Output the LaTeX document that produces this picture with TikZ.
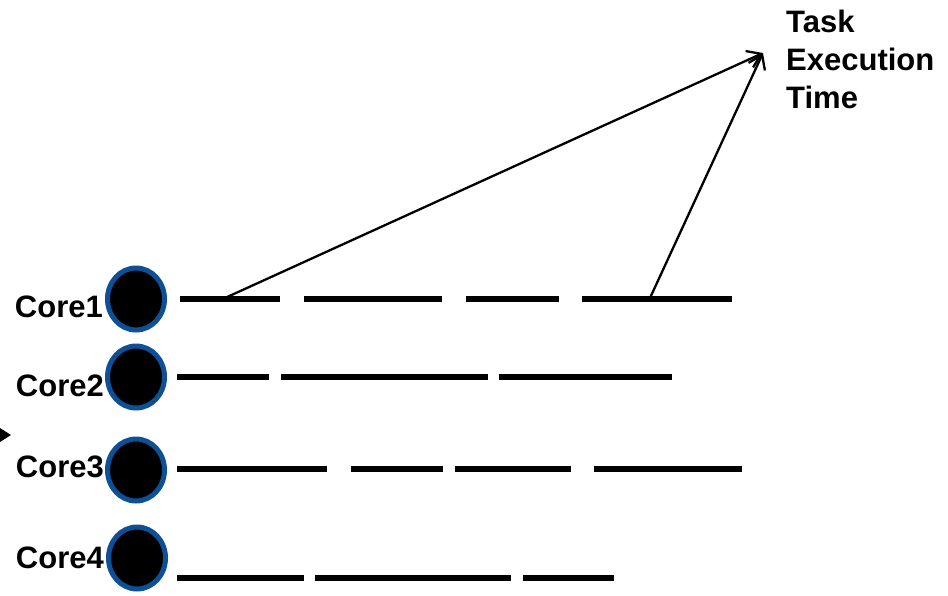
\documentclass[tikz,border=0pt]{standalone}
\usepackage{fontspec}
\setmainfont{Liberation Sans}
\usetikzlibrary{shapes.geometric,arrows.meta}
\definecolor{ringblue}{RGB}{14,80,150}
\begin{document}
\begin{tikzpicture}[x=1pt,y=-1pt,
  core/.style={ellipse,draw=ringblue,fill=black,line width=5pt,minimum width=57pt,minimum height=62pt,inner sep=0},
  lbl/.style={font=\bfseries\fontsize{31}{38}\selectfont,inner sep=0,anchor=base east},
  seg/.style={line width=6.5pt},
  arr/.style={line width=2.3pt,-{Straight Barb[length=13pt,width=18pt,line width=2.3pt]}}]
\useasboundingbox (0,0) rectangle (948,595);
% cores
\node[core] (c1) at (136,299) {};
\node[core] (c2) at (136,377) {};
\node[core] (c3) at (136,470) {};
\node[core] (c4) at (137,558) {};
\node[lbl] (l1) at (103,317) {Core1};
\node[lbl] (l2) at (104,396) {Core2};
\node[lbl] (l3) at (104,477) {Core3};
\node[lbl] (l4) at (104,568) {Core4};
% segments row 1
\draw[seg] (180,299) -- (280,299);
\draw[seg] (304,299) -- (442,299);
\draw[seg] (466,299) -- (559,299);
\draw[seg] (582,299) -- (732,299);
% row 2
\draw[seg] (177,377) -- (269,377);
\draw[seg] (281,377) -- (488,377);
\draw[seg] (499,377) -- (672,377);
% row 3
\draw[seg] (177,469) -- (327,469);
\draw[seg] (351,469) -- (443,469);
\draw[seg] (455,469) -- (571,469);
\draw[seg] (594,469) -- (742,469);
% row 4
\draw[seg] (177,578) -- (304,578);
\draw[seg] (315,578) -- (511,578);
\draw[seg] (523,578) -- (614,578);
% label
\node[font=\bfseries\fontsize{31}{38}\selectfont,align=left,inner sep=0,anchor=north west] (tet) at (786,10) {Task\\Execution\\Time};
\coordinate (tip) at (763,53);
\coordinate (a1) at (225,298);
\coordinate (a2) at (650,298);
\draw[arr] (a1) -- (tip);
\draw[arr] (a2) -- (tip);
% left arrowhead
\fill (0,428) -- (11,435) -- (0,442) -- cycle;
\end{tikzpicture}
\end{document}
